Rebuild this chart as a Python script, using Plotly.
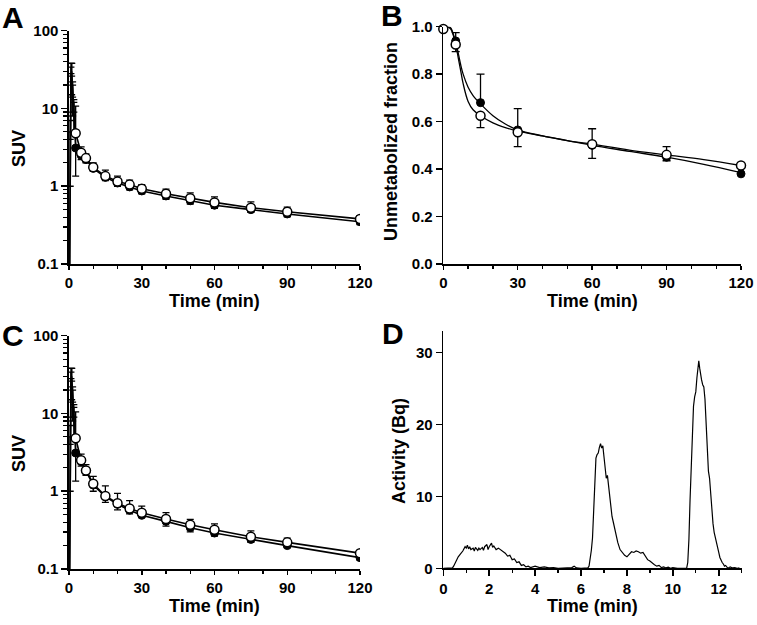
import plotly.graph_objects as go

W, H = 757, 625

# ---------------- data ----------------
# Panel A (SUV, log)
tA = [0.2, 0.5, 0.8, 1.1, 1.5, 2.0, 2.75, 5, 7, 10, 15, 20, 25, 30, 40, 50, 60, 75, 90, 120]
A_filled = [0.05, 3.0, 24, 30, 16, 9, 3.1, 2.5, 2.2, 1.7, 1.3, 1.1, 0.98, 0.87, 0.75, 0.65, 0.57, 0.50, 0.44, 0.35]
A_filled_plus = [0, 2, 10, 8, 6, 3, 7.6, 0, 0, 0, 0, 0, 0, 0, 0, 0, 0, 0, 0, 0]
A_filled_minus = [0, 2, 15, 15, 8, 4, 1.75, 0.3, 0.2, 0.15, 0.12, 0.1, 0.08, 0.07, 0.07, 0.06, 0.05, 0.04, 0.035, 0.03]
A_open = [0.05, 4.0, 28, 26, 14, 9, 4.8, 2.7, 2.3, 1.75, 1.35, 1.15, 1.05, 0.93, 0.8, 0.7, 0.62, 0.53, 0.47, 0.38]
A_open_plus = [0, 3, 10, 12, 6, 4, 0, 0.5, 0.3, 0.25, 0.26, 0.2, 0.15, 0.12, 0.12, 0.12, 0.11, 0.1, 0.07, 0.04]

# Panel C (SUV, log)
tC = [0.2, 0.5, 0.8, 1.1, 1.5, 2.0, 2.75, 5, 7, 10, 15, 20, 25, 30, 40, 50, 60, 75, 90, 120]
C_filled = [0.05, 3.0, 24, 30, 16, 9, 3.1, 2.4, 1.8, 1.2, 0.85, 0.68, 0.57, 0.49, 0.41, 0.34, 0.29, 0.24, 0.2, 0.14]
C_filled_plus = [0, 2, 10, 8, 6, 3, 7.4, 0, 0, 0, 0, 0, 0, 0, 0, 0, 0, 0, 0, 0]
C_filled_minus = [0, 2, 15, 15, 8, 4, 1.75, 0.3, 0.2, 0.2, 0.13, 0.105, 0.06, 0.03, 0.055, 0.04, 0.025, 0.02, 0.01, 0.01]
C_open = [0.05, 4.0, 28, 26, 14, 9, 4.8, 2.5, 1.85, 1.25, 0.87, 0.7, 0.6, 0.53, 0.44, 0.37, 0.32, 0.26, 0.22, 0.16]
C_open_plus = [0, 3, 10, 12, 6, 4, 0, 0.5, 0.35, 0.3, 0.3, 0.24, 0.155, 0.115, 0.09, 0.065, 0.06, 0.05, 0.03, 0.01]

n_early = 6  # early frames drawn without markers

# Panel B (unmetabolized fraction)
tB = [0, 5, 15, 30, 60, 90, 120]
B_filled = [0.99, 0.94, 0.68, 0.565, 0.50, 0.45, 0.38]
B_filled_plus = [0, 0.035, 0.12, 0.09, 0.07, 0.045, 0]
B_open = [0.99, 0.925, 0.625, 0.555, 0.505, 0.46, 0.415]
B_open_minus = [0, 0.03, 0.05, 0.06, 0.06, 0.025, 0]
tB_fit = [0, 2, 3, 3.5, 4, 4.5, 5, 6, 7, 8, 10, 12, 15, 20, 25, 30, 40, 50, 60, 75, 90, 105, 120]
B_fit_filled = [1.0, 1.0, 0.995, 0.985, 0.97, 0.955, 0.94, 0.89, 0.84, 0.80, 0.745, 0.71, 0.675, 0.625, 0.59, 0.565, 0.54, 0.52, 0.50, 0.475, 0.45, 0.42, 0.385]
B_fit_open = [1.0, 0.998, 0.99, 0.98, 0.965, 0.945, 0.925, 0.87, 0.815, 0.76, 0.685, 0.65, 0.625, 0.595, 0.575, 0.56, 0.54, 0.52, 0.505, 0.48, 0.46, 0.44, 0.415]

# Panel D (radio-HPLC chromatogram)
tD = [0.0, 0.2, 0.4, 0.45, 0.55, 0.65, 0.75, 0.85, 0.95, 1.0,
      1.05, 1.1, 1.15, 1.2, 1.3, 1.35, 1.4, 1.5, 1.55, 1.6,
      1.7, 1.75, 1.8, 1.9, 1.95, 2.0, 2.1, 2.15, 2.2, 2.3,
      2.4, 2.5, 2.6, 2.7, 2.8, 2.9, 3.0, 3.1, 3.2, 3.3,
      3.4, 3.5, 3.6, 3.7, 3.8, 3.9, 4.0, 4.2, 4.4, 4.6,
      4.8, 5.0, 5.2, 5.4, 5.6, 5.7, 5.8, 6.0, 6.2, 6.3,
      6.35, 6.4, 6.45, 6.5, 6.55, 6.6, 6.65, 6.7, 6.75, 6.8,
      6.85, 6.9, 6.95, 7.0, 7.05, 7.1, 7.15, 7.2, 7.25, 7.3,
      7.35, 7.4, 7.5, 7.6, 7.7, 7.8, 7.9, 8.0, 8.1, 8.2,
      8.3, 8.4, 8.5, 8.6, 8.7, 8.8, 8.9, 9.0, 9.1, 9.2,
      9.3, 9.4, 9.5, 9.6, 9.7, 9.8, 9.9, 10.0, 10.2, 10.4,
      10.6, 10.65, 10.7, 10.75, 10.8, 10.85, 10.9, 10.95, 11.0, 11.05,
      11.1, 11.13, 11.17, 11.2, 11.25, 11.3, 11.35, 11.4, 11.45, 11.5,
      11.55, 11.6, 11.65, 11.7, 11.75, 11.8, 11.85, 11.9, 11.95, 12.0,
      12.05, 12.1, 12.15, 12.2, 12.25, 12.3, 12.35, 12.4, 12.5, 12.6,
      12.7, 12.8, 12.9]
vD = [0.0, 0.0, 0.05, 0.3, 1.0, 1.6, 2.0, 2.4, 3.0, 2.8,
      3.2, 2.7, 3.0, 2.6, 2.8, 2.4, 2.9, 2.5, 2.8, 2.6,
      2.9, 2.5, 3.0, 3.3, 2.6, 3.0, 3.5, 2.9, 3.1, 2.6,
      2.8, 2.6, 2.3, 2.1, 1.7, 1.8, 1.2, 1.3, 0.8, 0.9,
      0.4, 0.5, 0.2, 0.3, 0.1, 0.2, 0.3, 0.1, 0.2, 0.05,
      0.1, 0.0, 0.05, 0.0, 0.1, 0.3, 0.05, 0.0, 0.0, 0.05,
      0.3, 1.2, 2.5, 4.2, 8.5, 13.5, 15.3, 15.8, 16.0, 16.8,
      17.3, 16.7, 17.0, 15.5, 14.2, 12.5, 12.9, 11.5, 9.5, 8.0,
      7.2, 6.5, 5.0, 3.6, 2.6, 2.2, 1.8, 1.6, 2.0, 2.3,
      2.2, 2.4, 2.3, 2.1, 2.2, 1.6, 1.2, 1.0, 0.7, 0.5,
      0.3, 0.4, 0.1, 0.2, 0.05, 0.15, 0.0, 0.1, 0.0, 0.0,
      0.0, 0.8, 4.0, 9.5, 15.0, 19.0, 22.5, 23.8, 24.5, 26.5,
      28.0, 28.8, 27.8, 27.0, 26.2, 25.5, 25.2, 23.5, 20.0, 17.0,
      13.5, 12.5, 10.0, 8.2, 6.2, 5.0, 4.2, 3.3, 2.7, 2.2,
      1.5, 1.0, 0.8, 0.6, 0.3, 0.4, 0.1, 0.0, 0.2, 0.05,
      0.1, 0.0, 0.05]

log_ticks = [0.1, 1, 10, 100]
log_ticktext = ["0.1", "1", "10", "100"]
log_minor = [round(m * d, 3) for d in (0.1, 1, 10) for m in range(2, 10)]

# ---------------- helpers ----------------
def px(x):
    return x / W

def py(y):
    return 1 - y / H

FONT = "Liberation Sans, Arial, Helvetica, sans-serif"
tickfont = dict(family=FONT, size=15, color="black", weight="bold")
CLEAR = "rgba(0,0,0,0)"

fig = go.Figure()

def ebar_trace(t, y, plus, minus, xa, ya, width=3.5):
    fig.add_trace(go.Scatter(
        x=t, y=y, mode="markers", xaxis=xa, yaxis=ya,
        marker=dict(size=2, color=CLEAR),
        error_y=dict(type="data", symmetric=False, array=plus, arrayminus=minus,
                     color="black", thickness=1.3, width=width),
        hoverinfo="skip", showlegend=False))

def suv_traces(t, filled, fplus, fminus, opn, oplus, xa, ya):
    n = len(t)
    ebar_trace(t, filled, fplus, fminus, xa, ya)
    ebar_trace(t, opn, oplus, [0] * n, xa, ya)
    for vals in (filled, opn):
        fig.add_trace(go.Scatter(x=t, y=vals, mode="lines", xaxis=xa, yaxis=ya,
                                 line=dict(color="black", width=1.6), showlegend=False))
    fig.add_trace(go.Scatter(x=t[n_early:], y=filled[n_early:], mode="markers", xaxis=xa, yaxis=ya,
                             marker=dict(symbol="circle", size=8, color="black", line=dict(color="black", width=1)),
                             showlegend=False))
    fig.add_trace(go.Scatter(x=t[n_early:], y=opn[n_early:], mode="markers", xaxis=xa, yaxis=ya,
                             marker=dict(symbol="circle", size=9, color="white", line=dict(color="black", width=1.5)),
                             showlegend=False))

suv_traces(tA, A_filled, A_filled_plus, A_filled_minus, A_open, A_open_plus, "x", "y")
suv_traces(tC, C_filled, C_filled_plus, C_filled_minus, C_open, C_open_plus, "x3", "y3")

# Panel B
ebar_trace(tB, B_filled, B_filled_plus, [0] * len(tB), "x2", "y2", width=4)
ebar_trace(tB, B_open, [0] * len(tB), B_open_minus, "x2", "y2", width=4)
fig.add_trace(go.Scatter(x=tB_fit, y=B_fit_filled, mode="lines", line=dict(color="black", width=1.3, shape="spline"),
                         xaxis="x2", yaxis="y2", showlegend=False))
fig.add_trace(go.Scatter(x=tB_fit, y=B_fit_open, mode="lines", line=dict(color="black", width=1.3, shape="spline"),
                         xaxis="x2", yaxis="y2", showlegend=False))
fig.add_trace(go.Scatter(x=tB, y=B_filled, mode="markers", xaxis="x2", yaxis="y2",
                         marker=dict(size=8, color="black", line=dict(color="black", width=1)),
                         cliponaxis=False, showlegend=False))
fig.add_trace(go.Scatter(x=tB, y=B_open, mode="markers", xaxis="x2", yaxis="y2",
                         marker=dict(size=9, color="white", line=dict(color="black", width=1.5)),
                         cliponaxis=False, showlegend=False))

# Panel D
fig.add_trace(go.Scatter(x=tD, y=vD, mode="lines", line=dict(color="black", width=1.2),
                         xaxis="x4", yaxis="y4", showlegend=False))

def axis_common(ticklen=6):
    return dict(showline=True, linecolor="black", linewidth=1.6, ticks="outside", ticklen=ticklen,
                tickwidth=1.5, tickcolor="black", showgrid=False, zeroline=False, tickfont=tickfont,
                automargin=False, fixedrange=True)

minor_x = lambda d: dict(ticks="outside", ticklen=3, tickwidth=1.3, tickcolor="black", dtick=d, tick0=0, showgrid=False)

def y_log(dom, anchor):
    return dict(domain=dom, type="log", range=[-1, 2], tickvals=log_ticks, ticktext=log_ticktext,
                anchor=anchor,
                minor=dict(ticks="outside", ticklen=4, tickwidth=1.2, tickcolor="black",
                           tickvals=log_minor, showgrid=False),
                **axis_common(6))

fig.update_layout(
    width=W, height=H, margin=dict(l=0, r=0, t=0, b=0, autoexpand=False),
    plot_bgcolor="white", paper_bgcolor="white",
    xaxis=dict(anchor="y", domain=[px(69), px(360)], range=[0, 120], tickvals=[0, 30, 60, 90, 120],
               minor=minor_x(10), **axis_common(4)),
    yaxis=y_log([py(264), py(30.7)], "x"),
    xaxis3=dict(anchor="y3", domain=[px(69), px(360)], range=[0, 120], tickvals=[0, 30, 60, 90, 120],
                minor=minor_x(10), **axis_common(4)),
    yaxis3=y_log([py(569), py(335.7)], "x3"),
    xaxis2=dict(anchor="y2", domain=[px(443.3), px(741)], range=[0, 120], tickvals=[0, 30, 60, 90, 120],
                minor=minor_x(10), **axis_common(4)),
    yaxis2=dict(anchor="x2", domain=[py(264), py(26.7)], range=[0, 1.0], tickvals=[0, 0.2, 0.4, 0.6, 0.8, 1.0],
                ticktext=["0.0", "0.2", "0.4", "0.6", "0.8", "1.0"], **axis_common(6)),
    xaxis4=dict(anchor="y4", domain=[px(443.3), px(741.7)], range=[0, 13], tickvals=[0, 2, 4, 6, 8, 10, 12],
                minor=minor_x(1), **axis_common(6)),
    yaxis4=dict(anchor="x4", domain=[py(568.3), py(330.7)], range=[0, 33], tickvals=[0, 10, 20, 30], **axis_common(6)),
)

title_font = dict(family=FONT, size=18, color="black", weight="bold")
letter_font = dict(family=FONT, size=30, color="black", weight="bold")

annots = [
    ("A", 13, 17, 0, letter_font), ("B", 392, 15, 0, letter_font),
    ("C", 13, 335, 0, letter_font), ("D", 393, 333, 0, letter_font),
    ("Time (min)", 214.5, 301, 0, title_font), ("Time (min)", 592, 301, 0, title_font),
    ("Time (min)", 214.5, 606, 0, title_font), ("Time (min)", 592.5, 606, 0, title_font),
    ("SUV", 19, 149, -90, title_font), ("SUV", 19, 454, -90, title_font),
    ("Unmetabolized fraction", 391, 142, -90, title_font), ("Activity (Bq)", 399, 451, -90, title_font),
]
for text, x, y, ang, f in annots:
    fig.add_annotation(text=text, x=px(x), y=py(y), xref="paper", yref="paper", showarrow=False,
                       xanchor="center", yanchor="middle", textangle=ang, font=f)

fig.write_html("out.html", config={"staticPlot": True},
               post_script="document.body.style.margin='0px';document.body.style.overflow='hidden';")
